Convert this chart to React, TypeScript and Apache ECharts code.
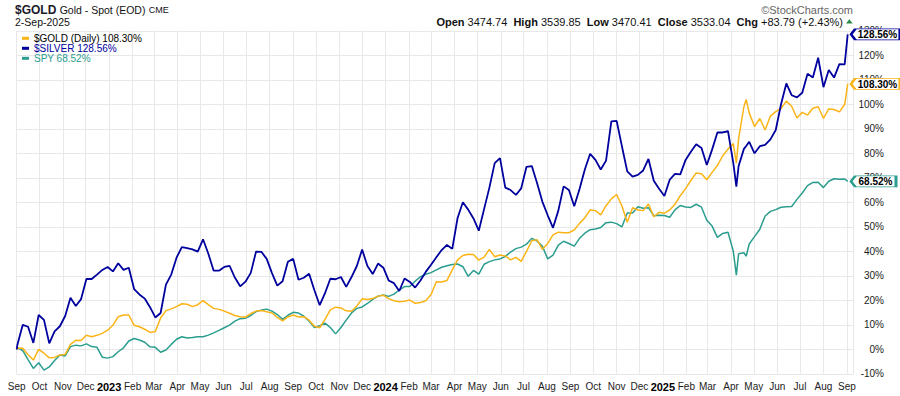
import React, { useEffect, useRef } from "react";
import * as echarts from "echarts";

// ---- data (percent change since 2022-09-01) ----
const dates = [
  "2022-09-01", "2022-09-02", "2022-09-09", "2022-09-16", "2022-09-23", "2022-09-30",
  "2022-10-07", "2022-10-14", "2022-10-21", "2022-10-28",
  "2022-11-04", "2022-11-11", "2022-11-18", "2022-11-25",
  "2022-12-02", "2022-12-09", "2022-12-16", "2022-12-23", "2022-12-30",
  "2023-01-06", "2023-01-13", "2023-01-20", "2023-01-27",
  "2023-02-03", "2023-02-10", "2023-02-17", "2023-02-24",
  "2023-03-03", "2023-03-10", "2023-03-17", "2023-03-24", "2023-03-31",
  "2023-04-07", "2023-04-14", "2023-04-21", "2023-04-28",
  "2023-05-05", "2023-05-12", "2023-05-19", "2023-05-26",
  "2023-06-02", "2023-06-09", "2023-06-16", "2023-06-23", "2023-06-30",
  "2023-07-07", "2023-07-14", "2023-07-21", "2023-07-28",
  "2023-08-04", "2023-08-11", "2023-08-18", "2023-08-25",
  "2023-09-01", "2023-09-08", "2023-09-15", "2023-09-22", "2023-09-29",
  "2023-10-06", "2023-10-13", "2023-10-20", "2023-10-27",
  "2023-11-03", "2023-11-10", "2023-11-17", "2023-11-24",
  "2023-12-01", "2023-12-08", "2023-12-15", "2023-12-22", "2023-12-29",
  "2024-01-05", "2024-01-12", "2024-01-19", "2024-01-26",
  "2024-02-02", "2024-02-09", "2024-02-16", "2024-02-23",
  "2024-03-01", "2024-03-08", "2024-03-15", "2024-03-22", "2024-03-29",
  "2024-04-05", "2024-04-12", "2024-04-19", "2024-04-26",
  "2024-05-03", "2024-05-10", "2024-05-17", "2024-05-24", "2024-05-31",
  "2024-06-07", "2024-06-14", "2024-06-21", "2024-06-28",
  "2024-07-05", "2024-07-12", "2024-07-19", "2024-07-26",
  "2024-08-02", "2024-08-09", "2024-08-16", "2024-08-23", "2024-08-30",
  "2024-09-06", "2024-09-13", "2024-09-20", "2024-09-27",
  "2024-10-04", "2024-10-11", "2024-10-18", "2024-10-25",
  "2024-11-01", "2024-11-08", "2024-11-15", "2024-11-22", "2024-11-29",
  "2024-12-06", "2024-12-13", "2024-12-20", "2024-12-27",
  "2025-01-03", "2025-01-10", "2025-01-17", "2025-01-24", "2025-01-31",
  "2025-02-07", "2025-02-14", "2025-02-21", "2025-02-28",
  "2025-03-07", "2025-03-14", "2025-03-21", "2025-03-28",
  "2025-04-04", "2025-04-08", "2025-04-11", "2025-04-18", "2025-04-21", "2025-04-25",
  "2025-05-02", "2025-05-09", "2025-05-16", "2025-05-23", "2025-05-30",
  "2025-06-06", "2025-06-13", "2025-06-20", "2025-06-27",
  "2025-07-04", "2025-07-11", "2025-07-18", "2025-07-25",
  "2025-08-01", "2025-08-08", "2025-08-15", "2025-08-22", "2025-08-29",
  "2025-09-02",
];

const goldPct = [
  0, 0.5, 0.4, -2.2, -4.4, 0,
  -1.6, -3.5, -3.3, -2.3,
  -2.1, 2, 3.7, 3.6,
  5.7, 5.1, 5.7, 6.5, 7.8,
  9.8, 13.3, 14, 14,
  9.8, 9.2, 8.2, 6.9,
  7.3, 12.8, 15.8, 16.5, 17.4,
  18.6, 18.4, 17.4, 18.2,
  19.9, 18.2, 16.7, 16.3,
  15.6, 14.7, 13.8, 13.3, 13.1,
  14.6, 15.6, 15.8, 15.3,
  14.8, 13, 11.6, 13.2,
  14, 13.2, 13.3, 11.9, 9.4,
  8.8, 12.2, 16.1, 17.2,
  16.9, 15.7, 15.5, 17.7,
  20.6, 20.3, 20.7, 21.7, 22.1,
  20.7, 19.8, 19.4, 19.6,
  20.1, 18.8, 19.1, 19.8,
  22.4, 27.6, 27.5, 28.1, 32.4,
  36.5, 38.3, 38.8, 38.7,
  36.4, 37.6, 40.8, 37.8, 38.5,
  38.1, 36.5, 37.5, 35.9,
  40, 44.3, 44.7, 40.8,
  43.2, 46.7, 47.8, 47.6, 47.6,
  48.7, 51.4, 53.7, 56.9,
  56.6, 54.9, 58.6, 61.4,
  63.2, 58.5, 51.9, 57.8, 56.9,
  56.6, 59.3, 54.1, 55.9,
  55.5, 56.9, 59.2, 62.7, 65.6,
  68.9, 72, 71.7, 69.2,
  72.2, 75, 79, 81.7,
  84, 76, 86, 99, 102, 96.5,
  90.9, 94.2, 89.5, 95.2, 97,
  98.3, 101.3, 99.2, 94.4,
  96.7, 95.6, 98.4, 99,
  94.3, 98.1, 97.9, 96.9, 99.9,
  108.3,
];

const silverPct = [
  0, 2, 10, 9.2, 2.6, 14,
  12, 2.4, 7.3, 9.4,
  13.6, 21, 17.7, 20.5,
  28.7, 28.7, 30.5, 32.4, 33.6,
  31.8, 35.1, 32.4, 33.3,
  24.6, 22.4, 20.7, 17.2,
  13, 14.8, 26.4, 30.5, 37.4,
  41.7, 41.3, 40.8, 39.9,
  44.9, 39, 32.1, 32.1,
  33.6, 34.1, 29.3, 25.7, 27.6,
  31.2, 39.9, 39.8, 36.9,
  31.1, 26, 27.8, 35.7,
  36.9, 28.4, 29.2, 30.8, 24.1,
  18, 22.9, 28.8, 28.6,
  29.5, 25.5, 29.5, 34,
  40.7, 34, 30.7, 35, 33.3,
  28.1, 27, 23.8, 28.9,
  27.5, 25.2, 28.1, 31.6,
  34.5, 37.6, 40.5, 42.6, 41,
  53.6, 60, 57, 53.4,
  48.4, 57.2, 66, 76, 78,
  66, 65, 63, 65.7,
  74.5, 74.8, 67.8, 60.2,
  54.7, 49.6, 56.6, 66.5, 65,
  58.4, 65.4, 73.4, 79.8,
  77.3, 73.4, 77, 93,
  93.2, 82.8, 72.6, 70.5, 71.2,
  73, 77.7, 68.8, 65.5,
  62.6, 69.2, 71.6, 71.4, 77.3,
  80.6, 83.7, 82.2, 75.2,
  81.5, 88.5, 88.5, 89,
  76, 66.4, 74.8, 81.8, 83, 84.7,
  80, 82.9, 83.4, 85.7, 89.5,
  100, 108.5, 103.7, 102.8,
  104.7, 112.5, 110.9, 119,
  107, 114, 110.9, 116.4, 116.3,
  128.56,
];

const spyPct = [
  0, 0.6, -0.5, -4.2, -7.8, -5.5,
  -8.5, -7.2, -4.6, -2.3,
  -2.7, 1.1, 1.7, 1.4,
  2.2, 1.1, 0.8, -3.2, -3.6,
  -3, -1, 0.6, 3.4,
  4.4, 3.8, 2.9, 1,
  0.8, -1.2, -0.3, 2, 4.1,
  5.1, 4.6, 4.8, 5.1,
  5.1, 5.8, 6.7, 7.7,
  8.8, 9.9, 11.5, 12.5, 12.7,
  13.8, 15.4, 16, 16.4,
  15.6, 14.2, 12.2, 13.9,
  15.1, 14.8, 13.5, 11.5, 8.9,
  9.6, 10.7, 8.9, 6.3,
  8.9, 11.9, 14.8, 16.7,
  17.3, 18.7, 20.4, 21.7, 22.2,
  21.6, 22.5, 24.2, 25.6,
  25.6, 27.8, 29.6, 30.6,
  31.3, 32.4, 33.5, 34.1, 34.6,
  34.8, 33.7, 29.8, 32.2,
  30.7, 34.7, 35.8, 36.5, 36.9,
  37.9, 39.7, 41.1, 41.7,
  42.9, 45.3, 44.2, 42,
  36.9, 38.4, 42.5, 44.1, 43.2,
  42.1, 45.3, 47.4, 48.8,
  49.1, 49.7, 51.7, 51.9,
  51.3, 50, 55.6, 55.6, 58.2,
  57.6, 57.8, 54.5, 54.7,
  54.6, 53.9, 56.9, 58.7, 58.1,
  57.9, 59.2, 58, 52.7,
  50.3, 45.7, 47.3, 47.8,
  40, 30.3, 39, 39.4, 38, 43,
  46, 49, 54.4, 56.3, 57,
  58, 58.2, 58.3, 61.2,
  63.8, 66.8, 68.1, 68.2,
  66, 68.6, 69.6, 69.4, 69.5,
  68.52,
];

const seriesNames = ["$GOLD (Daily)", "$SILVER", "SPY"];
const seriesColors = ["#FBB417", "#00009E", "#2A9D8F"];
const legendTextColors = ["#000000", "#00009E", "#2A9D8F"];
const quoteLabels = ["Open", "High", "Low", "Close", "Chg"];
const quoteValues = ["3474.74", "3539.85", "3470.41", "3533.04", "+83.79 (+2.43%)"];
const yTicks = { min: -10, max: 130, step: 10 };

const FONT = '"Liberation Sans", Arial, Helvetica, sans-serif';

export default function App() {
  const ref = useRef<HTMLDivElement>(null);

  useEffect(() => {
    if (!ref.current) return;
    const chart = echarts.init(ref.current, undefined, { renderer: "svg" });
    const values = [goldPct, silverPct, spyPct];
    const lastDate = dates[dates.length - 1];

    const tagPath = (w: number) => `path://M0,5.5L4.3,0L${w},0L${w},11L4.3,11Z`;

    const series = values.map((vals, i) => {
      const last = vals[vals.length - 1];
      const label = `${last.toFixed(2)}%`;
      const w = label.length >= 7 ? 49 : 45;
      return {
        name: seriesNames[i],
        type: "line",
        data: dates.map((d, j) => [d, vals[j]]),
        showSymbol: false,
        symbol: "none",
        z: i === 1 ? 5 : i === 0 ? 4 : 3,
        lineStyle: { width: i === 1 ? 1.8 : 1.5, color: seriesColors[i] },
        itemStyle: { color: seriesColors[i] },
        emphasis: { disabled: true },
        markPoint: {
          silent: true,
          symbol: tagPath(w),
          symbolSize: [w, 11],
          symbolOffset: [3.3 + w / 2, 0],
          itemStyle: { color: "#ffffff", borderColor: seriesColors[i], borderWidth: 1.5 },
          label: {
            show: true,
            position: "inside",
            offset: [2, 0.5],
            color: "#000000",
            fontWeight: "bold",
            fontSize: 10,
            fontFamily: FONT,
            formatter: () => label,
          },
          data: [{ coord: [lastDate, last] }],
        },
      };
    });

    const quoteText = quoteLabels
      .map((l, i) => `{l|${l}} ${quoteValues[i]}`)
      .join("  ");

    const option: any = {
      animation: false,
      backgroundColor: "#ffffff",
      textStyle: { fontFamily: FONT },
      grid: { left: 16.7, right: 47, top: 30.8, bottom: 22.2, containLabel: false },
      legend: {
        orient: "vertical",
        left: 17,
        top: 28.3,
        itemWidth: 7,
        itemHeight: 3,
        itemGap: 0,
        icon: "rect",
        selectedMode: false,
        textStyle: { fontSize: 10, lineHeight: 10, fontFamily: FONT, padding: 0 },
        formatter: (name: string) => {
          const i = seriesNames.indexOf(name);
          const v = values[i][values[i].length - 1];
          return `${name} ${v.toFixed(2)}%`;
        },
        data: seriesNames.map((n, i) => ({
          name: n,
          textStyle: { color: legendTextColors[i] },
          itemStyle: { color: seriesColors[i] },
        })),
      },
      xAxis: {
        type: "time",
        min: "2022-09-01",
        max: "2025-09-09",
        splitNumber: 36,
        minInterval: 28 * 86400000,
        maxInterval: 31 * 86400000,
        axisLine: { show: false },
        axisTick: { show: false },
        splitLine: { show: true, lineStyle: { color: "#e8e8e8", width: 1 } },
        axisLabel: {
          margin: 8,
          fontSize: 10,
          color: "#222222",
          fontFamily: FONT,
          hideOverlap: false,
          showMaxLabel: false,
          formatter: { year: "{yr|{yyyy}}", month: "{MMM}", day: "" },
          rich: { yr: { fontWeight: "bold", fontSize: 11, color: "#000000", fontFamily: FONT } },
        },
      },
      yAxis: {
        type: "value",
        position: "right",
        min: yTicks.min,
        max: yTicks.max,
        interval: yTicks.step,
        axisLine: { show: false },
        axisTick: { show: false },
        splitLine: { show: true, lineStyle: { color: "#e8e8e8", width: 1 } },
        axisLabel: {
          formatter: "{value}%",
          align: "right",
          margin: 31,
          fontSize: 10,
          color: "#222222",
          fontFamily: FONT,
        },
      },
      graphic: [
        {
          type: "text",
          x: 15,
          y: 9.5,
          silent: true,
          style: {
            text: "{a|$GOLD} {b|Gold - Spot (EOD)} {c|CME}",
            verticalAlign: "middle",
            fontFamily: FONT,
            rich: {
              a: { fontWeight: "bold", fontSize: 12, fill: "#1a1a2a", fontFamily: FONT },
              b: { fontSize: 10.5, fill: "#111111", fontFamily: FONT },
              c: { fontSize: 9, fill: "#111111", fontFamily: FONT },
            },
          },
        },
        {
          type: "text",
          x: 15,
          y: 22,
          silent: true,
          style: { text: "2-Sep-2025", fontSize: 10.5, fill: "#111111", fontFamily: FONT, verticalAlign: "middle" },
        },
        {
          type: "text",
          x: 853,
          y: 9.7,
          silent: true,
          style: { text: "©StockCharts.com", fontSize: 11, fill: "#666666", fontFamily: FONT, align: "right", verticalAlign: "middle" },
        },
        {
          type: "text",
          x: 843,
          y: 21.7,
          silent: true,
          style: {
            text: quoteText,
            fontSize: 11,
            fill: "#111111",
            fontFamily: FONT,
            align: "right",
            verticalAlign: "middle",
            rich: { l: { fontWeight: "bold", fontSize: 11, fill: "#111111", fontFamily: FONT } },
          },
        },
        {
          type: "polygon",
          silent: true,
          shape: { points: [[846, 23.5], [852.7, 23.5], [849.35, 19.3]] },
          style: { fill: "#2e8b47" },
        },
      ],
      series,
    };

    chart.setOption(option);
    return () => chart.dispose();
  }, []);

  return (
    <div
      ref={ref}
      style={{ position: "fixed", left: 0, top: 0, width: 900, height: 396, background: "#fff" }}
    />
  );
}
